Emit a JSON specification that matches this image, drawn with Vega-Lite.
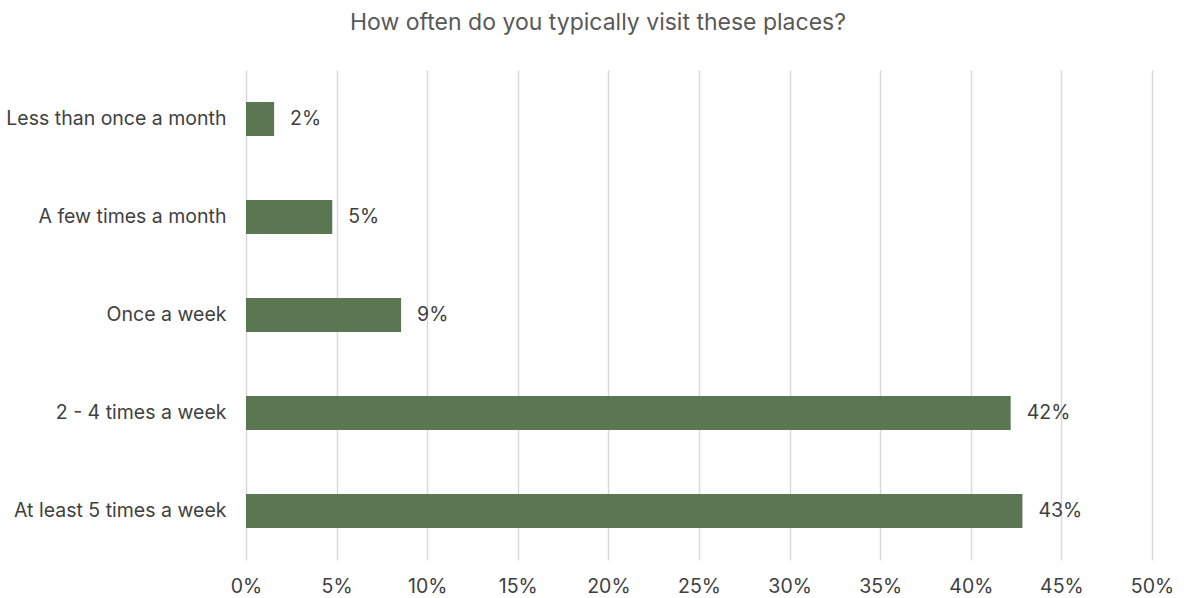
{
  "$schema": "https://vega.github.io/schema/vega-lite/v6.json",
  "width": 906,
  "height": 490,
  "autosize": {"type": "none"},
  "padding": {"left": 246, "top": 70, "right": 32, "bottom": 38},
  "background": "white",
  "title": {
    "text": "How often do you typically visit these places?",
    "font": "Inter",
    "fontSize": 23,
    "fontWeight": "normal",
    "color": "#595959",
    "anchor": "middle",
    "dx": -101,
    "offset": 35
  },
  "config": {
    "view": {"stroke": null},
    "font": "Inter"
  },
  "data": {
    "values": [
      {"category": "Less than once a month", "value": 0.0155},
      {"category": "A few times a month", "value": 0.0476},
      {"category": "Once a week", "value": 0.0856},
      {"category": "2 - 4 times a week", "value": 0.422},
      {"category": "At least 5 times a week", "value": 0.4285}
    ]
  },
  "encoding": {
    "y": {
      "field": "category",
      "type": "nominal",
      "sort": null,
      "axis": {
        "title": null,
        "domain": false,
        "ticks": false,
        "labelPadding": 20,
        "labelFontSize": 19.5,
        "labelColor": "#404040",
        "labelFont": "Inter",
        "labelLimit": 400,
        "grid": false
      }
    },
    "x": {
      "field": "value",
      "type": "quantitative",
      "scale": {"domain": [0, 0.5], "nice": false},
      "axis": {
        "title": null,
        "format": ".0%",
        "values": [0, 0.05, 0.1, 0.15, 0.2, 0.25, 0.3, 0.35, 0.4, 0.45, 0.5],
        "domain": false,
        "ticks": false,
        "grid": true,
        "gridColor": "#d9d9d9",
        "gridWidth": 1.5,
        "labelFlush": false,
        "labelOverlap": false,
        "labelPadding": 17,
        "labelFontSize": 19.5,
        "labelColor": "#404040",
        "labelFont": "Inter"
      }
    }
  },
  "layer": [
    {
      "mark": {"type": "bar", "color": "#5b7653", "size": 34}
    },
    {
      "mark": {
        "type": "text",
        "align": "left",
        "baseline": "middle",
        "dx": 16,
        "fontSize": 19.5,
        "color": "#404040",
        "font": "Inter"
      },
      "encoding": {
        "text": {"field": "value", "type": "quantitative", "format": ".0%"}
      }
    }
  ]
}
